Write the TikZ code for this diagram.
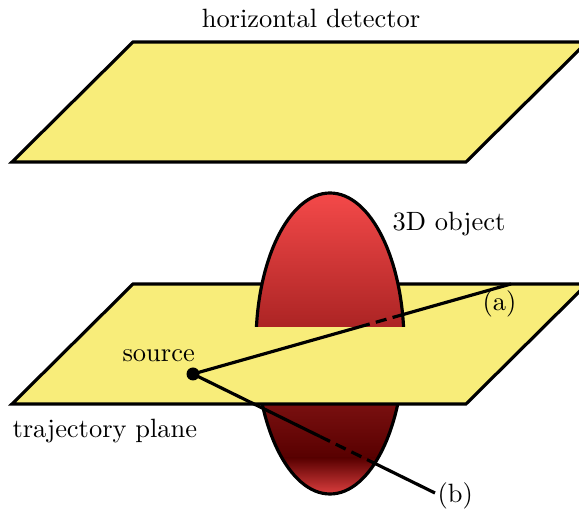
\documentclass[tikz,border=0pt]{standalone}
\usetikzlibrary{calc}
\definecolor{planefill}{RGB}{248,237,122}
\definecolor{objlight}{RGB}{245,74,74}
\definecolor{objmid}{RGB}{172,36,36}
\definecolor{objdark}{RGB}{122,16,16}
\definecolor{objdeep}{RGB}{88,0,0}
\begin{document}
\begin{tikzpicture}[x=0.378pt,y=0.378pt,
  plane/.style={draw=black,fill=planefill,line width=1.2pt,line join=miter},
  outline/.style={draw=black,line width=1.2pt},
  ray/.style={draw=black,line width=1.2pt},
  hidden/.style={ray,dash pattern=on 4.2pt off 2.4pt},
  lbl/.style={inner sep=0pt,font=\normalsize}]
\useasboundingbox (0,0) rectangle (579,511);

% detector plane
\draw[plane] (12,349) -- (133,469) -- (587,469) -- (466,349) -- cycle;

% lower half of the object (below the trajectory plane)
\begin{scope}
  \clip (330,167.5) ellipse [x radius=74,y radius=150.5];
  \shade[top color=objdark,bottom color=objdeep] (250,53) rectangle (410,108);
  \shade[top color=objdeep,bottom color=objlight] (250,10) rectangle (410,53.2);
\end{scope}
\begin{scope}
  \clip (240,0) rectangle (420,107);
  \draw[outline] (330,167.5) ellipse [x radius=74,y radius=150.5];
\end{scope}

% trajectory plane
\draw[plane] (12,107) -- (133,227) -- (587,227) -- (466,107) -- cycle;

% upper half of the object (above the trajectory plane)
\begin{scope}
  \clip (330,167.5) ellipse [x radius=74,y radius=150.5];
  \shade[top color=objlight,bottom color=objmid] (250,184) rectangle (410,320);
\end{scope}
\begin{scope}
  \clip (240,184) rectangle (420,330);
  \draw[outline] (330,167.5) ellipse [x radius=74,y radius=150.5];
\end{scope}

% source and rays
\coordinate (src) at (193,137);
\coordinate (ea) at (511,227);
\coordinate (eb) at (435,18);
\coordinate (a1) at ($(src)!0.522!(ea)$);
\coordinate (a2) at ($(src)!0.659!(ea)$);
\coordinate (b1) at ($(src)!0.525!(eb)$);
\coordinate (b2) at ($(src)!0.75!(eb)$);
\draw[ray] (src) -- (a1);
\draw[hidden] (a1) -- (a2);
\draw[ray] (a2) -- (ea);
\draw[ray] (src) -- (b1);
\draw[hidden] (b1) -- (b2);
\draw[ray] (b2) -- (eb);
\fill[black] (src) circle [radius=6.5];

% labels
\node[lbl,anchor=base] (tdet) at (311,483) {horizontal detector};
\node[lbl,anchor=base west] (tplane) at (12,73) {trajectory plane};
\node[lbl,anchor=base west] (tobj) at (392,280) {3D object};
\node[lbl,anchor=base west] (tsrc) at (122,149) {source};
\node[lbl,anchor=base west] (ta) at (482,200) {(a)};
\node[lbl,anchor=base west] (tb) at (437,8) {(b)};
\end{tikzpicture}
\end{document}
